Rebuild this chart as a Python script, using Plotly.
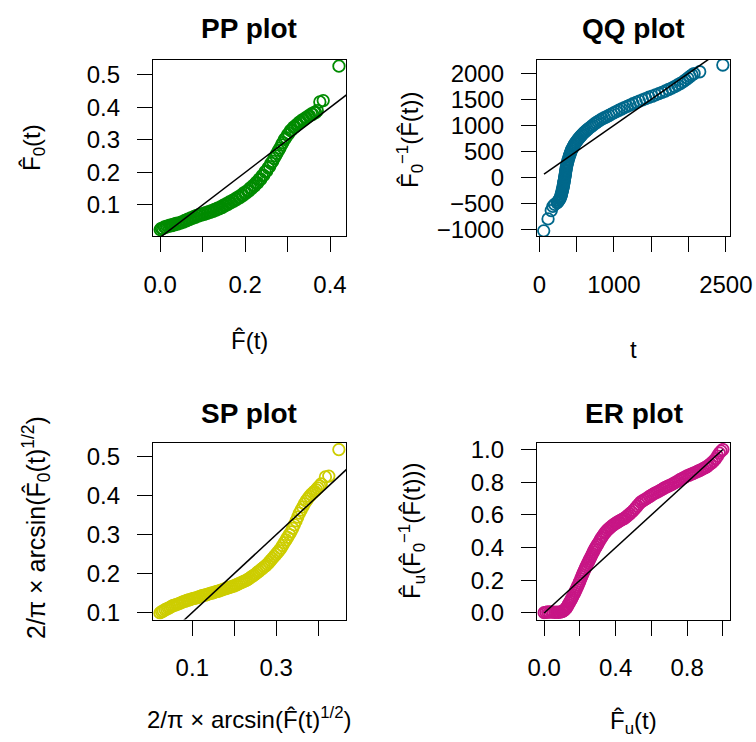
import plotly.graph_objects as go

W, H = 756, 742

# ---------------- data, (x, y) pairs ----------------
PP_POINTS = [
    (0.000, .024), (0.003, .028), (0.006, .027), (0.010, .032), (0.013, .031), (0.016, .035), (0.020, .034), (0.023, .038), (0.027, .036), (0.030, .040),
    (0.034, .039), (0.037, .043), (0.041, .041), (0.044, .045), (0.048, .044), (0.051, .048), (0.055, .047), (0.058, .052), (0.062, .051), (0.065, .056),
    (0.069, .055), (0.072, .060), (0.076, .059), (0.079, .064), (0.083, .062), (0.086, .068), (0.090, .066), (0.093, .071), (0.097, .069), (0.100, .073),
    (0.104, .071), (0.107, .076), (0.111, .074), (0.114, .079), (0.118, .077), (0.121, .082), (0.125, .080), (0.128, .086), (0.132, .084), (0.135, .090),
    (0.139, .088), (0.142, .094), (0.146, .092), (0.149, .099), (0.153, .097), (0.156, .104), (0.160, .102), (0.163, .109), (0.167, .107), (0.170, .114),
    (0.174, .112), (0.177, .119), (0.181, .117), (0.184, .125), (0.188, .123), (0.191, .131), (0.195, .129), (0.198, .138), (0.202, .136), (0.205, .144),
    (0.209, .143), (0.212, .152), (0.216, .151), (0.219, .160), (0.223, .159), (0.226, .169), (0.230, .168), (0.233, .179), (0.237, .179), (0.240, .190),
    (0.244, .191), (0.247, .202), (0.251, .204), (0.254, .214), (0.258, .218), (0.261, .228), (0.265, .234), (0.268, .243), (0.272, .251), (0.275, .259),
    (0.279, .268), (0.282, .275), (0.286, .285), (0.289, .292), (0.293, .302), (0.296, .307), (0.300, .316), (0.303, .320), (0.307, .329), (0.310, .331),
    (0.314, .339), (0.317, .340), (0.321, .347), (0.324, .348), (0.328, .355), (0.331, .356), (0.335, .362), (0.338, .362), (0.342, .368), (0.345, .368),
    (0.349, .374), (0.352, .374), (0.356, .380), (0.359, .379), (0.363, .385), (0.366, .384), (0.370, .390), (0.376, .417), (0.384, .421), (0.421, .527),
]
PP_LINE = [0.0, 0.45]

QQ_POINTS = [
    (59, -1030), (117, -800), (160, -640), (182, -560), (205, -520), (238, -490), (250, -470), (262, -445), (272, -420), (280, -400),
    (287, -375), (292, -350), (296, -325), (300, -300), (305, -275), (309, -250), (313, -225), (317, -200), (320, -175), (324, -150),
    (327, -120), (330, -95), (333, -70), (336, -45), (339, -20), (342, 5), (345, 30), (348, 55), (351, 85), (354, 115),
    (357, 145), (361, 175), (365, 205), (369, 235), (374, 265), (379, 295), (385, 325), (391, 355), (398, 390), (405, 420),
    (412, 450), (420, 480), (428, 510), (437, 540), (446, 565), (456, 595), (466, 620), (477, 645), (489, 670), (501, 695),
    (514, 720), (528, 745), (542, 770), (557, 795), (573, 820), (590, 845), (608, 870), (627, 895), (647, 920), (668, 945),
    (690, 970), (713, 995), (737, 1025), (762, 1050), (788, 1075), (815, 1100), (843, 1125), (872, 1145), (902, 1165), (933, 1190),
    (965, 1215), (998, 1240), (1032, 1265), (1067, 1290), (1103, 1315), (1140, 1340), (1178, 1365), (1217, 1390), (1257, 1415), (1298, 1440),
    (1340, 1465), (1383, 1490), (1426, 1515), (1470, 1540), (1514, 1560), (1558, 1585), (1602, 1610), (1646, 1635), (1690, 1660), (1733, 1690),
    (1775, 1715), (1815, 1745), (1853, 1775), (1890, 1805), (1925, 1835), (1958, 1870), (1990, 1905), (2020, 1940), (2048, 1970), (2075, 1995),
    (2150, 2030), (2460, 2160),
]
QQ_LINE = [63, 2462]

SP_POINTS = [
    (0.023, .099), (0.027, .102), (0.031, .104), (0.035, .107), (0.039, .109), (0.043, .111), (0.047, .113), (0.051, .116), (0.055, .118), (0.059, .119),
    (0.063, .121), (0.067, .122), (0.071, .124), (0.075, .126), (0.079, .128), (0.083, .129), (0.087, .131), (0.091, .132), (0.095, .133), (0.099, .135),
    (0.103, .136), (0.107, .137), (0.111, .138), (0.115, .140), (0.119, .141), (0.123, .143), (0.127, .144), (0.131, .145), (0.135, .146), (0.139, .148),
    (0.143, .149), (0.147, .150), (0.151, .151), (0.155, .153), (0.159, .154), (0.163, .155), (0.167, .157), (0.171, .158), (0.175, .160), (0.179, .161),
    (0.183, .163), (0.187, .164), (0.191, .165), (0.195, .167), (0.199, .168), (0.203, .170), (0.207, .172), (0.211, .174), (0.215, .176), (0.219, .178),
    (0.223, .180), (0.227, .182), (0.231, .184), (0.235, .187), (0.239, .190), (0.243, .193), (0.247, .196), (0.251, .199), (0.255, .203), (0.259, .206),
    (0.263, .210), (0.267, .213), (0.271, .217), (0.275, .220), (0.279, .224), (0.283, .229), (0.287, .234), (0.291, .239), (0.295, .244), (0.299, .249),
    (0.303, .254), (0.307, .259), (0.311, .265), (0.315, .272), (0.319, .279), (0.323, .286), (0.327, .293), (0.331, .300), (0.335, .307), (0.339, .316),
    (0.343, .325), (0.347, .335), (0.351, .345), (0.355, .355), (0.359, .363), (0.363, .371), (0.367, .379), (0.371, .386), (0.375, .392), (0.379, .398),
    (0.383, .403), (0.387, .407), (0.391, .411), (0.395, .415), (0.399, .420), (0.403, .425), (0.407, .430), (0.417, .448), (0.425, .450), (0.449, .518),
]
SP_LINE = [0.0, 0.48]

ER_POINTS = [
    (0.000, .002), (0.010, .004), (0.020, .006), (0.030, .005), (0.040, .007), (0.050, .005), (0.060, .004), (0.070, .005), (0.080, .004), (0.090, .006),
    (0.100, .008), (0.105, .011), (0.110, .015), (0.115, .019), (0.120, .025), (0.125, .032), (0.130, .040), (0.135, .050), (0.140, .060), (0.145, .070),
    (0.150, .080), (0.155, .090), (0.160, .100), (0.165, .111), (0.170, .122), (0.175, .134), (0.180, .145), (0.185, .158), (0.190, .170), (0.195, .183),
    (0.200, .195), (0.205, .209), (0.210, .222), (0.215, .235), (0.220, .248), (0.225, .260), (0.230, .272), (0.235, .284), (0.240, .295), (0.245, .307),
    (0.250, .318), (0.255, .329), (0.260, .340), (0.265, .351), (0.270, .362), (0.275, .373), (0.280, .384), (0.285, .394), (0.290, .403), (0.295, .413),
    (0.300, .422), (0.308, .436), (0.315, .450), (0.323, .463), (0.330, .475), (0.338, .487), (0.345, .497), (0.353, .506), (0.360, .514), (0.368, .521),
    (0.375, .528), (0.383, .535), (0.390, .541), (0.398, .547), (0.405, .552), (0.413, .557), (0.420, .562), (0.428, .567), (0.435, .571), (0.443, .576),
    (0.450, .580), (0.460, .589), (0.470, .598), (0.480, .607), (0.490, .617), (0.500, .628), (0.510, .640), (0.520, .653), (0.530, .666), (0.540, .678),
    (0.550, .685), (0.560, .692), (0.570, .698), (0.580, .706), (0.590, .713), (0.600, .720), (0.610, .727), (0.620, .733), (0.630, .738), (0.640, .744),
    (0.650, .750), (0.660, .756), (0.670, .763), (0.680, .769), (0.690, .774), (0.700, .779), (0.710, .784), (0.720, .790), (0.730, .796), (0.740, .802),
    (0.750, .808), (0.760, .815), (0.770, .821), (0.780, .827), (0.790, .833), (0.800, .839), (0.810, .843), (0.820, .848), (0.830, .852), (0.840, .857),
    (0.850, .862), (0.860, .867), (0.870, .872), (0.880, .877), (0.890, .883), (0.900, .889), (0.910, .895), (0.920, .903), (0.930, .912), (0.940, .921),
    (0.950, .931), (0.960, .944), (0.970, .960), (0.980, .978), (0.990, .990), (1.000, 1.000),
]
ER_LINE = [0.0, 1.0]

# ticks: labelled (major) and unlabelled (minor)
PP_XTICKS, PP_XMINOR = [0.0, 0.2, 0.4], [0.1, 0.3]
PP_YTICKS = [0.1, 0.2, 0.3, 0.4, 0.5]
QQ_XTICKS, QQ_XMINOR = [0, 1000, 2500], [500, 1500, 2000]
QQ_YTICKS = [-1000, -500, 0, 500, 1000, 1500, 2000]
QQ_YTEXT = ["\u22121000", "\u2212500", "0", "500", "1000", "1500", "2000"]
SP_XTICKS, SP_XMINOR = [0.1, 0.3], [0.2, 0.4]
SP_YTICKS = [0.1, 0.2, 0.3, 0.4, 0.5]
ER_XTICKS, ER_XMINOR = [0.0, 0.4, 0.8], [0.2, 0.6, 1.0]
ER_YTICKS = [0.0, 0.2, 0.4, 0.6, 0.8, 1.0]

COLORS = ["#008B00", "#00688B", "#CDCD00", "#C71585"]
FONT = "Liberation Sans, Arial, sans-serif"
TICKFONT = 24

# plot boxes in pixels: (left, right, top, bottom)
BOXES = [(153, 346, 60, 236), (537, 730, 60, 236), (153, 346, 443, 619.5), (537, 730, 443, 619.5)]
XR = [[-0.0168, 0.4376], [-31, 2556], [0.0064, 0.466], [-0.04, 1.04]]
YR = [[0.0043, 0.546], [-1129, 2256], [0.082, 0.535], [-0.04, 1.04]]

def fmt1(v):
    return "%.1f" % v

panels = [
    (PP_POINTS, PP_LINE, PP_XTICKS, [fmt1(v) for v in PP_XTICKS], PP_XMINOR, PP_YTICKS, [fmt1(v) for v in PP_YTICKS]),
    (QQ_POINTS, QQ_LINE, QQ_XTICKS, [str(v) for v in QQ_XTICKS], QQ_XMINOR, QQ_YTICKS, QQ_YTEXT),
    (SP_POINTS, SP_LINE, SP_XTICKS, [fmt1(v) for v in SP_XTICKS], SP_XMINOR, SP_YTICKS, [fmt1(v) for v in SP_YTICKS]),
    (ER_POINTS, ER_LINE, ER_XTICKS, [fmt1(v) for v in ER_XTICKS], ER_XMINOR, ER_YTICKS, [fmt1(v) for v in ER_YTICKS]),
]

fig = go.Figure()
layout = dict(template="none", width=W, height=H, autosize=False,
              margin=dict(l=0, r=0, t=0, b=0, pad=0, autoexpand=False),
              paper_bgcolor="white", plot_bgcolor="white", showlegend=False,
              font=dict(family=FONT, color="black", size=TICKFONT))

for i, (pts, line, xt, xtt, xmin, yt, ytt) in enumerate(panels):
    n = "" if i == 0 else str(i + 1)
    xa, ya = "x" + n, "y" + n
    fig.add_trace(go.Scatter(x=[p[0] for p in pts], y=[p[1] for p in pts], mode="markers",
                             xaxis=xa, yaxis=ya,
                             marker=dict(symbol="circle-open", size=11.5, color=COLORS[i],
                                         line=dict(width=1.8, color=COLORS[i]))))
    fig.add_trace(go.Scatter(x=line, y=line, mode="lines", xaxis=xa, yaxis=ya,
                             line=dict(color="black", width=1.5)))
    l, r, t, b = BOXES[i]
    common = dict(showgrid=False, zeroline=False, showline=True, linecolor="black", linewidth=1.3,
                  mirror=True, ticks="outside", ticklen=15, tickwidth=1.3, tickcolor="black",
                  automargin=False, tickmode="array",
                  tickfont=dict(family=FONT, size=TICKFONT, color="black"))
    layout["xaxis" + n] = dict(common, domain=[l / W, r / W], range=XR[i], tickvals=xt,
                               ticktext=xtt, anchor=ya, ticklabelstandoff=12,
                               minor=dict(tickmode="array", tickvals=xmin, ticks="outside",
                                          ticklen=15, tickwidth=1.3, tickcolor="black",
                                          showgrid=False))
    layout["yaxis" + n] = dict(common, domain=[1 - b / H, 1 - t / H], range=YR[i], tickvals=yt,
                               ticktext=ytt, anchor=xa, ticklabelstandoff=12)

def ann(text, px, py, size=TICKFONT, bold=False, angle=0):
    return dict(text=("<b>%s</b>" % text) if bold else text, x=px / W, y=1 - py / H,
                xref="paper", yref="paper", showarrow=False, textangle=angle,
                xanchor="center", yanchor="middle",
                font=dict(family=FONT, size=size, color="black"))

HAT = "\u0302"
annotations = [
    ann("PP plot", 249.5, 29, 28, True),
    ann("QQ plot", 633.5, 29, 28, True),
    ann("SP plot", 249.5, 413, 28, True),
    ann("ER plot", 633.5, 413, 28, True),
    ann("F" + HAT + "(t)", 249.5, 340),
    ann("t", 633.5, 349),
    ann("2/\u03c0 \u00d7 arcsin(F" + HAT + "(t)<sup>1/2</sup>)", 249.5, 718),
    ann("F" + HAT + "<sub>u</sub>(t)", 633.5, 722),
    ann("F" + HAT + "<sub>0</sub>(t)", 33, 148, angle=-90),
    ann("F" + HAT + "<sub>0</sub><sup>\u22121</sup>(F" + HAT + "(t))", 410, 140, angle=-90),
    ann("2/\u03c0 \u00d7 arcsin(F" + HAT + "<sub>0</sub>(t)<sup>1/2</sup>)", 36, 528, size=25, angle=-90),
    ann("F" + HAT + "<sub>u</sub>(F" + HAT + "<sub>0</sub><sup>\u22121</sup>(F" + HAT + "(t)))",
        412, 531, angle=-90),
]
layout["annotations"] = annotations
fig.update_layout(**layout)

POST = ("document.documentElement.style.overflow='hidden';"
        "document.body.style.margin='0';document.body.style.padding='0';"
        "document.body.style.overflow='hidden';")
fig.write_html("out.html", config={"responsive": False, "displayModeBar": False}, post_script=POST)
